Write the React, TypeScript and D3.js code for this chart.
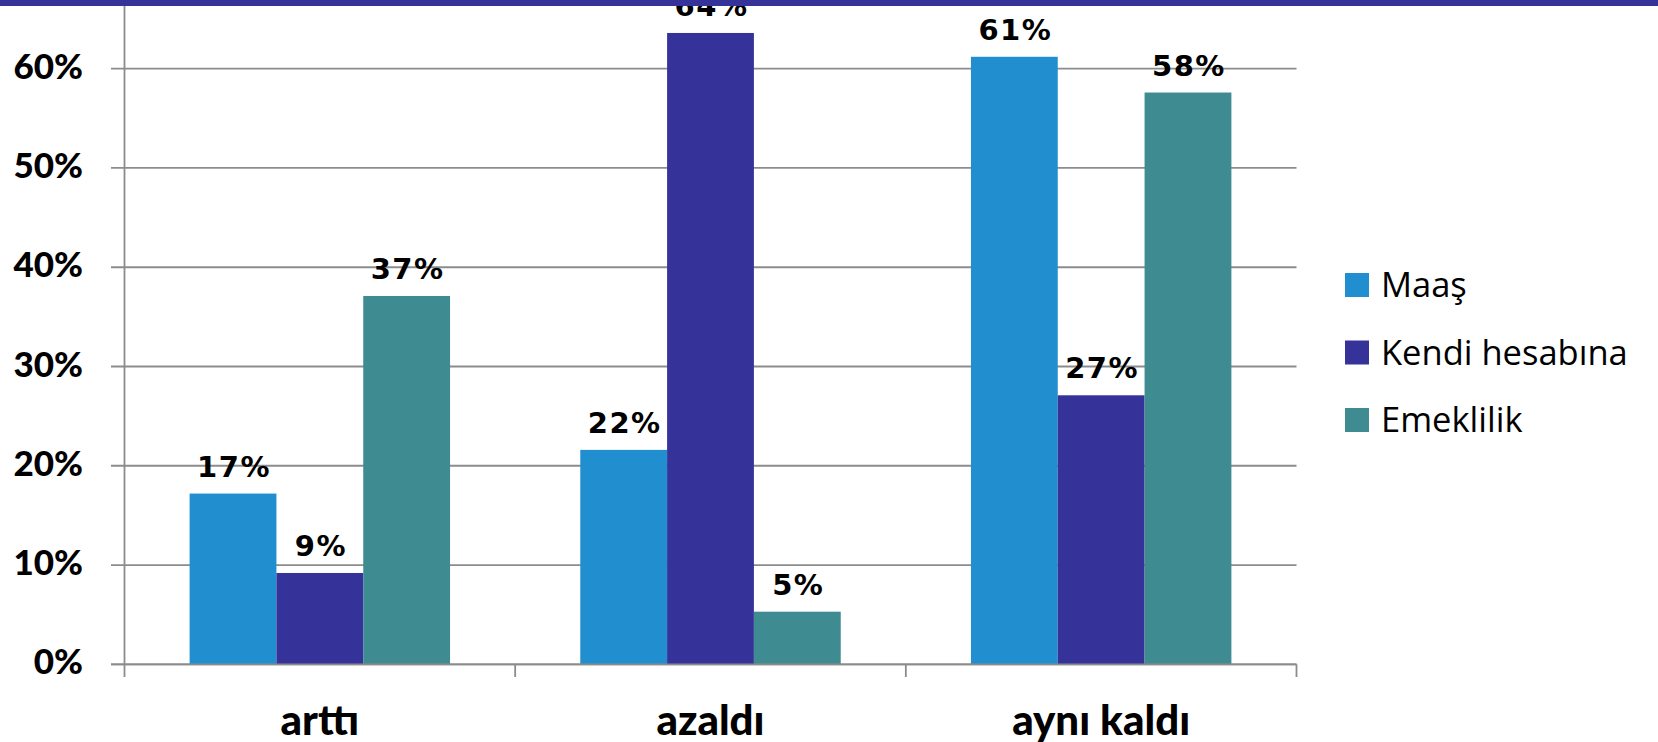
import React from "react";
import * as d3 from "d3";

const categories = ["arttı", "azaldı", "aynı kaldı"];
const seriesNames = ["Maaş", "Kendi hesabına", "Emeklilik"];
const maas = [0.172, 0.216, 0.612];
const kendi = [0.092, 0.636, 0.271];
const emeklilik = [0.371, 0.053, 0.576];
const yTicks = [0, 0.1, 0.2, 0.3, 0.4, 0.5, 0.6];
const colors = ["#218FCF", "#353399", "#3E8B92"];

const W = 1658;
const H = 742;

export default function App() {
  const series = [maas, kendi, emeklilik];
  const x0 = d3.scaleBand<string>().domain(categories).range([124.5, 1296.5]).paddingInner(0).paddingOuter(0);
  const x1 = d3
    .scaleBand<string>()
    .domain(seriesNames)
    .range([0, x0.bandwidth()])
    .paddingInner(0)
    .paddingOuter(0.75);
  const y = d3.scaleLinear().domain([0, 0.6]).range([664.3, 68.7]);
  const pct = d3.format(".0%");
  const bold = "Lato, 'Open Sans', sans-serif";

  return (
    <svg
      width={W}
      height={H}
      style={{ position: "absolute", left: 0, top: 0, background: "#fff" }}
      fontFamily={bold}
    >
      <rect x={0} y={0} width={W} height={H} fill="#fff" />
      {yTicks.map((t) => (
        <g key={t}>
          <line x1={111} x2={1296.5} y1={y(t)} y2={y(t)} stroke="#8c8c8c" strokeWidth={1.8} />
          <text
            x={83}
            y={y(t) + 10}
            textAnchor="end"
            fontWeight={900}
            fontSize={35}
            fill="#000"
          >
            {pct(t)}
          </text>
        </g>
      ))}
      <line x1={124.5} x2={124.5} y1={0} y2={664.3} stroke="#8c8c8c" strokeWidth={1.8} />
      {[...categories.map((c) => x0(c) as number), 1296.5].map((v, i) => (
        <line key={i} x1={v} x2={v} y1={664.3} y2={677} stroke="#8c8c8c" strokeWidth={1.8} />
      ))}
      {categories.map((c, ci) => (
        <g key={c} transform={`translate(${x0(c)},0)`}>
          {series.map((s, si) => {
            const bx = x1(seriesNames[si]) as number;
            const v = s[ci];
            return (
              <g key={si}>
                <rect
                  x={bx}
                  y={y(v)}
                  width={x1.bandwidth()}
                  height={y(0) - y(v)}
                  fill={colors[si]}
                />
                <text
                  x={bx + x1.bandwidth() / 2 + 1}
                  y={y(v) - 17}
                  textAnchor="middle"
                  fontFamily="'DejaVu Sans', sans-serif"
                  fontWeight={700}
                  fontSize={29}
                  letterSpacing={1.5}
                  fill="#000"
                >
                  {pct(v)}
                </text>
              </g>
            );
          })}
        </g>
      ))}
      <line x1={111} x2={1296.5} y1={664.3} y2={664.3} stroke="#8c8c8c" strokeWidth={1.8} />
      {categories.map((c) => (
        <text
          key={c}
          x={(x0(c) as number) + x0.bandwidth() / 2}
          y={735}
          textAnchor="middle"
          fontWeight={900}
          fontSize={42}
          fill="#000"
        >
          {c}
        </text>
      ))}
      {seriesNames.map((n, i) => {
        const cy = 285 + i * 67.5;
        return (
          <g key={n}>
            <rect x={1345} y={cy - 12} width={24} height={24} fill={colors[i]} />
            <text
              x={1381}
              y={cy + 12}
              fontFamily="'Open Sans', sans-serif"
              fontSize={34.5}
              fontWeight={400}
              fill="#000"
            >
              {n}
            </text>
          </g>
        );
      })}
      <rect x={0} y={0} width={W} height={6} fill="#353399" />
    </svg>
  );
}
